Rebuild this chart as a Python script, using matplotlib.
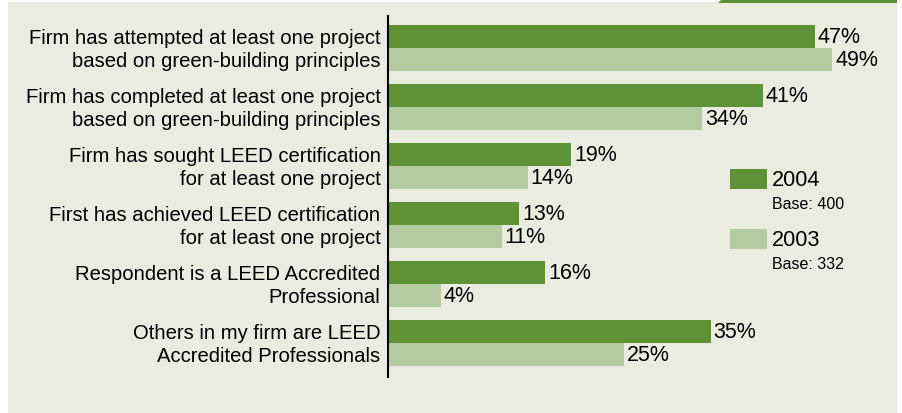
import matplotlib.pyplot as plt
from matplotlib.patches import Rectangle, Polygon

categories = [
    "Firm has attempted at least one project\nbased on green-building principles",
    "Firm has completed at least one project\nbased on green-building principles",
    "Firm has sought LEED certification\nfor at least one project",
    "First has achieved LEED certification\nfor at least one project",
    "Respondent is a LEED Accredited\nProfessional",
    "Others in my firm are LEED\nAccredited Professionals",
]
values_2004 = [47, 41, 19, 13, 16, 35]
values_2003 = [49, 34, 14, 11, 4, 25]
series_names = ["2004", "2003"]
series_bases = ["Base: 400", "Base: 332"]

DARK = "#5f9136"
LIGHT = "#b4caa1"
BG = "#e9ecdf"

plt.rcParams['font.family'] = ['Liberation Sans', 'DejaVu Sans']

W, H = 902, 414
fig = plt.figure(figsize=(W / 100, H / 100), dpi=100)
fig.patch.set_facecolor("white")

# background panel and green strip at the top right
fig.patches.append(Rectangle((8 / W, 0), (897 - 8) / W, (H - 3) / H,
                             transform=fig.transFigure, facecolor=BG,
                             edgecolor="none", zorder=-2))
fig.patches.append(Polygon([(718 / W, 1 - 4 / H), (722 / W, 1), (897 / W, 1),
                            (897 / W, 1 - 4 / H)], closed=True,
                           transform=fig.transFigure, facecolor=DARK,
                           edgecolor="none", zorder=-2))

# axes placed in pixel units; the original's bars start a little below zero
px_per_pct = 8.70
xmin = -18 / px_per_pct
x0, x1 = 388, 890
y_top, y_bot = 17, 378
ax = fig.add_axes([x0 / W, 1 - y_bot / H, (x1 - x0) / W, (y_bot - y_top) / H])
ax.set_zorder(2)
ax.set_facecolor("none")
ax.set_xlim(xmin, xmin + (x1 - x0) / px_per_pct)
pitch = 59.0
ax.set_ylim(5 + 34 / pitch, -32 / pitch)

bh = 23 / pitch
pos = list(range(len(categories)))
ax.barh([p - bh / 2 for p in pos], [v - xmin for v in values_2004], left=xmin,
        height=bh, color=DARK, linewidth=0)
ax.barh([p + bh / 2 for p in pos], [v - xmin for v in values_2003], left=xmin,
        height=bh, color=LIGHT, linewidth=0)

for p, v in zip(pos, values_2004):
    ax.text(v + 0.35, p - bh / 2, f"{v}%", va="center", ha="left", fontsize=15.5)
for p, v in zip(pos, values_2003):
    ax.text(v + 0.35, p + bh / 2, f"{v}%", va="center", ha="left", fontsize=15.5)

for p, lab in zip(pos, categories):
    ax.text(xmin - 0.85, p + 0.01, lab, ha="right", va="center", fontsize=14.6,
            linespacing=1.27)

for s in ["top", "right", "bottom"]:
    ax.spines[s].set_visible(False)
ax.spines["left"].set_linewidth(1.5)
ax.spines["left"].set_color("black")
ax.set_xticks([])
ax.set_yticks([])

# legend
for i, (name, base, col) in enumerate(zip(series_names, series_bases, [DARK, LIGHT])):
    top = 170 + i * 60
    fig.patches.append(Rectangle((730 / W, 1 - (top + 20) / H), 37 / W, 20 / H,
                                 transform=fig.transFigure, facecolor=col,
                                 edgecolor="none", zorder=3))
    fig.text(772 / W, 1 - (top + 11) / H, name, ha="left", va="center", fontsize=15.6)
    fig.text(772 / W, 1 - (top + 35) / H, base, ha="left", va="center", fontsize=11.5)

fig.savefig("out.png", dpi=100, facecolor=fig.get_facecolor())
